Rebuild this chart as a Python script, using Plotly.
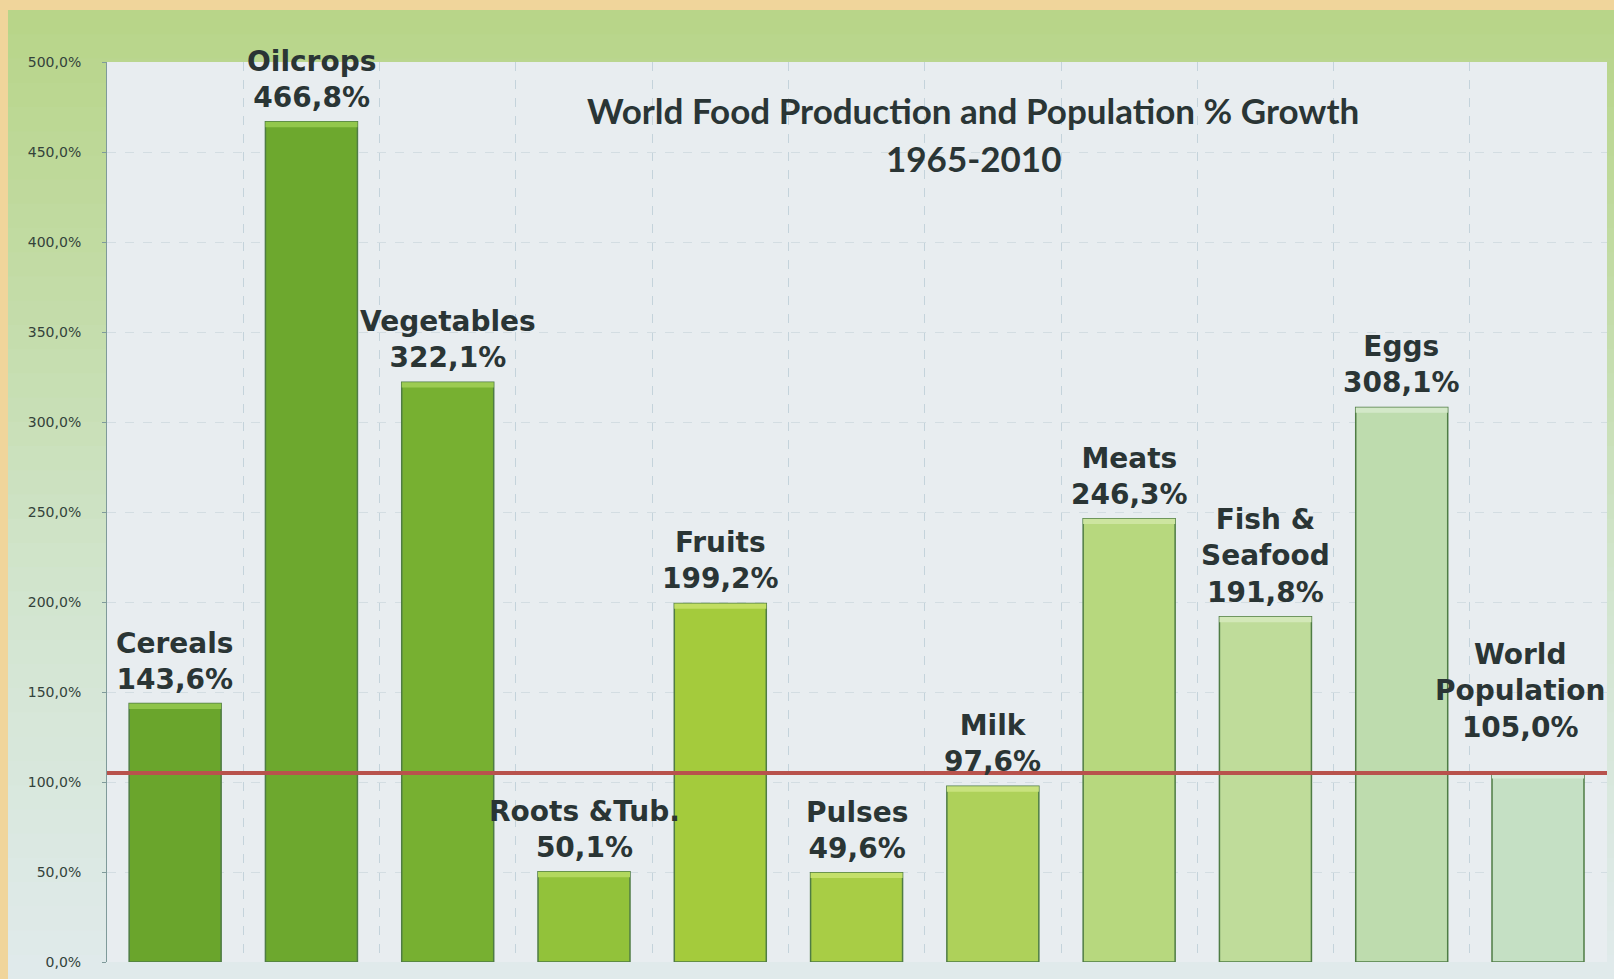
import plotly.graph_objects as go

# ---- data ----
categories = ["Cereals", "Oilcrops", "Vegetables", "Roots &Tub.", "Fruits", "Pulses",
              "Milk", "Meats", "Fish & Seafood", "Eggs", "World Population"]
label_names = ["Cereals", "Oilcrops", "Vegetables", "Roots &Tub.", "Fruits", "Pulses",
               "Milk", "Meats", "Fish &<br>Seafood", "Eggs", "World<br>Population"]
growth_pct = [143.6, 466.8, 322.1, 50.1, 199.2, 49.6, 97.6, 246.3, 191.8, 308.1, 105.0]
population_pct = 105.0
y_ticks = [0, 50, 100, 150, 200, 250, 300, 350, 400, 450, 500]
y_tick_labels = ["0,0%", "50,0%", "100,0%", "150,0%", "200,0%", "250,0%",
                 "300,0%", "350,0%", "400,0%", "450,0%", "500,0%"]

bar_colors = ["#6aa52c", "#6da82e", "#77b031", "#92c23a", "#a4cb3c", "#a8cd45",
              "#aed15a", "#b7d87e", "#bfdc9a", "#bedcae", "#c5e0c4"]
top_colors = ["#8fc44a", "#92c74c", "#9ccb52", "#b2d85e", "#c2de62", "#c4e06a",
              "#c8e27e", "#cde5a0", "#d3e8b8", "#d3e8c8", "#d8ebd8"]

W, H = 1614, 979
ML, MR, MT, MB = 107, 7, 62, 17
PW = W - ML - MR
PH = H - MT - MB


def px_x(px):
    return (px - ML) / PW


def px_y(py):
    return (H - MB - py) / PH


def lerp_color(c1, c2, t):
    a = [int(c1[i:i + 2], 16) for i in (1, 3, 5)]
    b = [int(c2[i:i + 2], 16) for i in (1, 3, 5)]
    return "#" + "".join(f"{round(a[k] + (b[k] - a[k]) * t):02x}" for k in range(3))


fig = go.Figure()

fig.add_trace(go.Bar(
    x=categories, y=growth_pct,
    marker=dict(color=bar_colors, line=dict(color="#4f7c44", width=1.5)),
    hoverinfo="x+y", showlegend=False,
))
# light top highlight of each bar
hl = 3.0
fig.add_trace(go.Bar(
    x=categories, y=[hl] * len(categories), base=[v - hl for v in growth_pct],
    marker=dict(color=top_colors, line=dict(width=0)),
    hoverinfo="skip", showlegend=False,
))

shapes = []
# green panel gradient (background decoration)
stops = [(10, "#b7d588"), (300, "#c3dca8"), (600, "#d2e5cf"), (979, "#e0eaec")]
nb = 40
y0 = 10
for i in range(nb):
    a = y0 + (H - y0) * i / nb
    b = y0 + (H - y0) * (i + 1) / nb
    mid = (a + b) / 2
    for j in range(len(stops) - 1):
        if stops[j][0] <= mid <= stops[j + 1][0]:
            t = (mid - stops[j][0]) / (stops[j + 1][0] - stops[j][0])
            col = lerp_color(stops[j][1], stops[j + 1][1], t)
            break
    shapes.append(dict(type="rect", xref="paper", yref="paper",
                       x0=px_x(8), x1=px_x(W + 2), y0=px_y(b + 1), y1=px_y(a),
                       fillcolor=col, line=dict(width=0), layer="below"))
# plot area background
shapes.append(dict(type="rect", xref="paper", yref="paper", x0=0, x1=1, y0=0, y1=1,
                   fillcolor="#e8edf0", line=dict(width=0), layer="below"))
# population reference line
shapes.append(dict(type="line", xref="paper", yref="y", x0=0, x1=1,
                   y0=population_pct, y1=population_pct,
                   line=dict(color="#b8524c", width=4), layer="above"))

annotations = []
for i, (cat, name, v) in enumerate(zip(categories, label_names, growth_pct)):
    val = f"{v:.1f}".replace(".", ",") + "%"
    txt = f"{name}<br>{val}"
    xs, ys = 0, 6
    if cat == "World Population":
        xs, ys = -18, 27
    annotations.append(dict(
        x=cat, y=v, xref="x", yref="y", text=txt, showarrow=False,
        yanchor="bottom",
        font=dict(family="DejaVu Sans", size=28, color="#2a3535", weight=700),
        yshift=ys, xshift=xs,
    ))

title_font = dict(family="Lato", size=35, color="#2a3535", weight=700)
annotations.append(dict(x=px_x(973), y=px_y(110), xref="paper", yref="paper",
                        text="World Food Production and Population % Growth",
                        showarrow=False, font=title_font,
                        xanchor="center", yanchor="middle"))
annotations.append(dict(x=px_x(973), y=px_y(158), xref="paper", yref="paper",
                        text="1965-2010",
                        showarrow=False, font=title_font,
                        xanchor="center", yanchor="middle"))

fig.update_layout(
    width=W, height=H,
    margin=dict(l=ML, r=MR, t=MT, b=MB, pad=0),
    paper_bgcolor="#f0d59b",
    plot_bgcolor="#e8edf0",
    barmode="overlay",
    bargap=0.325,
    shapes=shapes,
    annotations=annotations,
    xaxis=dict(type="category", showticklabels=False, tickson="boundaries",
               showgrid=True, gridcolor="#c4d3db", griddash="dash", gridwidth=1,
               ticks="", showline=False, zeroline=False, fixedrange=True),
    yaxis=dict(range=[0, 500], tickvals=y_ticks, ticktext=y_tick_labels,
               showgrid=True, gridcolor="#d3dde2", griddash="dash", gridwidth=1,
               showline=True, linecolor="#7f9a9a", linewidth=1,
               ticks="outside", ticklen=4, tickcolor="#7f9a9a",
               ticklabelstandoff=18,
               tickfont=dict(family="DejaVu Sans", size=14, color="#33423a"),
               zeroline=False, fixedrange=True),
    font=dict(family="DejaVu Sans"),
)

fig.write_html("out.html",
               config={"displayModeBar": False},
               post_script="document.body.style.margin='0px';"
                           "document.body.style.overflow='hidden';")
